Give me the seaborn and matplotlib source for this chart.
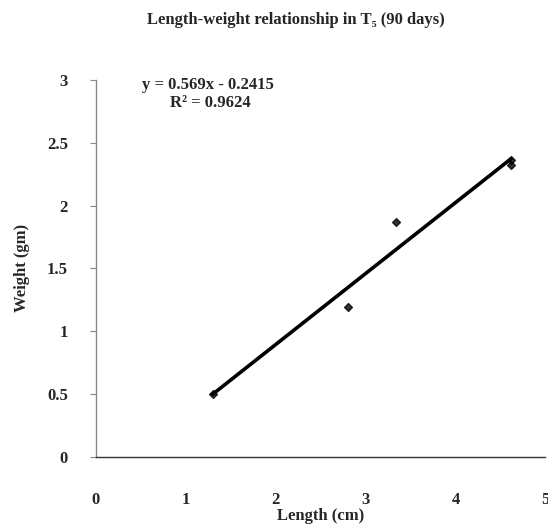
import matplotlib
matplotlib.use("Agg")
import matplotlib.pyplot as plt
import seaborn as sns
import numpy as np
import pandas as pd

length_cm = [1.3, 2.8, 3.34, 4.62, 4.62]
weight_gm = [0.5, 1.19, 1.87, 2.32, 2.36]
x_ticks = [0, 1, 2, 3, 4, 5]
y_ticks = [0, 0.5, 1, 1.5, 2, 2.5, 3]
y_tick_labels = ["0", "0.5", "1", "1.5", "2", "2.5", "3"]
title = "Length-weight relationship in T₅ (90 days)"
equation = "y = 0.569x - 0.2415"
r2_text = "R² = 0.9624"

sns.set_style("white")
plt.rcParams['font.family'] = ['Liberation Serif', 'DejaVu Serif']

df = pd.DataFrame({"Length": length_cm, "Weight": weight_gm})

fig = plt.figure(figsize=(5.48, 5.32), dpi=100)
ax = fig.add_axes([0.175, 0.141, 0.82, 0.709])

sns.regplot(data=df, x="Length", y="Weight", ax=ax, ci=None, truncate=True,
            marker="D", color="black",
            scatter_kws={"s": 16, "zorder": 3},
            line_kws={"lw": 2.6, "color": "black"})

ax.set_xlim(0, 5)
ax.set_ylim(0, 3)
ax.set_xticks(x_ticks)
ax.set_yticks(y_ticks)
ax.set_yticklabels(y_tick_labels)
for s in ["top", "right"]:
    ax.spines[s].set_visible(False)
ax.spines["left"].set_color("#888888")
ax.spines["left"].set_linewidth(1.0)
ax.spines["bottom"].set_color("#333333")
ax.spines["bottom"].set_linewidth(1.0)
ax.tick_params(axis="y", left=True, length=4, width=0.8, color="#888888", pad=16,
               labelsize=12)
ax.tick_params(axis="x", bottom=False, pad=22, labelsize=12)
for lab in ax.get_xticklabels() + ax.get_yticklabels():
    lab.set_fontweight("bold")

ax.set_xlabel("Length (cm)", fontsize=12, fontweight="bold", labelpad=0)
ax.set_ylabel("Weight (gm)", fontsize=12, fontweight="bold", labelpad=12)

fig.text(0.54, 0.962, title, ha="center", va="center", fontsize=12, fontweight="bold")
ax.text(0.25, 0.987, equation, transform=ax.transAxes, ha="center", va="center",
        fontsize=12, fontweight="bold")
ax.text(0.255, 0.939, r2_text, transform=ax.transAxes, ha="center", va="center",
        fontsize=12, fontweight="bold")

fig.savefig("out.png", dpi=100)
